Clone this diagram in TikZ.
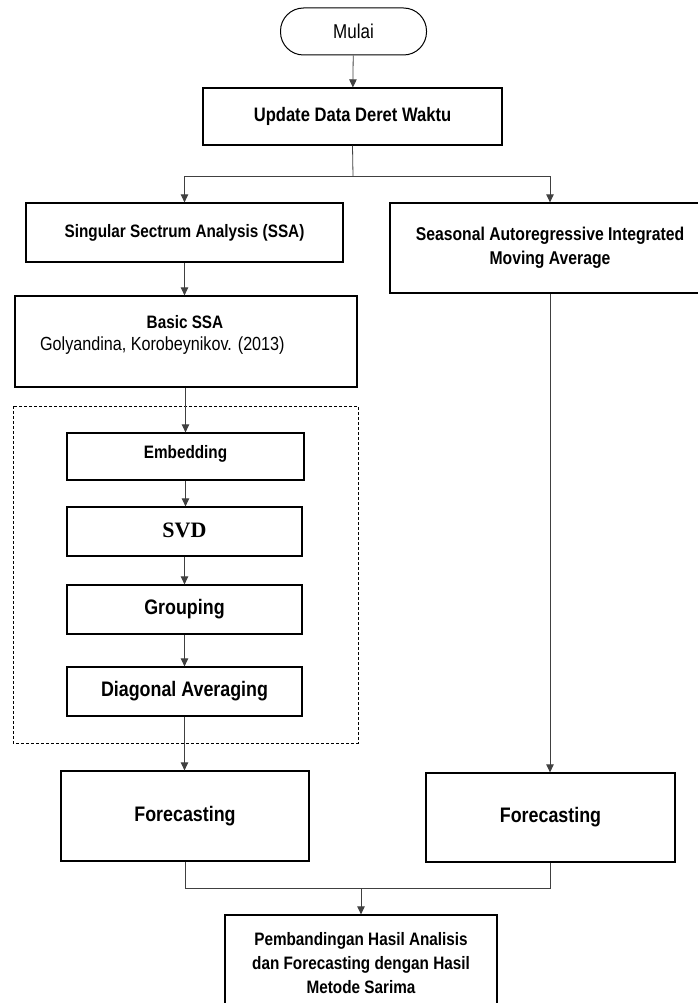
\documentclass[tikz,border=0pt]{standalone}
\usepackage{fontspec}
\setmainfont{Liberation Sans}
\newfontfamily\narrowfont{Liberation Sans}[FakeStretch=0.85]
\newfontfamily\svdfont{Liberation Serif}
\usetikzlibrary{arrows.meta}

\tikzset{every picture/.style={line width=0.75pt}}
\tikzset{
  box/.style={draw, line width=1.3pt, inner sep=0pt, align=center, font=\narrowfont\bfseries\fontsize{18}{24}\selectfont},
  flowline/.style={draw=black!75, line width=0.8pt},
  flowarrow/.style={flowline, -{Triangle[length=8pt,width=7.5pt]}},
  txt/.style={inner sep=0.75pt}
}

\begin{document}
\begin{tikzpicture}[x=1pt,y=1pt,yscale=-1,xscale=1]
\useasboundingbox (0,0) rectangle (697,1003);

%Terminal [id:mulai]
\node [draw, line width=1pt, rounded corners=23pt, minimum width=146pt, minimum height=47pt, inner sep=0pt, font=\narrowfont\fontsize{20}{24}\selectfont] (mulai) at (353.5,31.5) {Mulai};
%Process [id:update]
\node [box, minimum width=299pt, minimum height=57pt, font=\narrowfont\bfseries\fontsize{19.5}{24}\selectfont] (update) at (352.5,116.5) {Update Data Deret Waktu};
%Process [id:ssa]
\node [box, minimum width=317pt, minimum height=59pt] (ssa) at (184.5,232.5) {Singular Sectrum Analysis (SSA)};
%Process [id:sarima]
\node [box, minimum width=320pt, minimum height=90pt, font=\narrowfont\bfseries\fontsize{18.5}{24}\selectfont] (sarima) at (550,248) {Seasonal Autoregressive Integrated\\Moving Average};
%Process [id:basic]
\node [box, minimum width=342pt, minimum height=91pt] (basic) at (186,341.5) {};
% Text Node
\node [txt, font=\narrowfont\bfseries\fontsize{18}{24}\selectfont] (basictitle) at (185,322) {Basic SSA};
% Text Node
\node [txt, anchor=west, font=\narrowfont\fontsize{19}{24}\selectfont] (basicref) at (39,346) {Golyandina, Korobeynikov. (2013)};

%Dashed frame [id:ssasteps]
\draw [line width=0.8pt, dash pattern=on 3pt off 2pt] (13,406) rectangle (358,743);

%Process [id:embed]
\node [box, minimum width=237pt, minimum height=47pt] (embed) at (185.5,456.5) {\raisebox{10pt}{Embedding}};
%Process [id:svd]
\node [box, minimum width=235pt, minimum height=49pt, font=\svdfont\bfseries\fontsize{22}{24}\selectfont] (svd) at (184.5,531.5) {\raisebox{3pt}{SVD}};
%Process [id:group]
\node [box, minimum width=235pt, minimum height=49pt, font=\narrowfont\bfseries\fontsize{21}{24}\selectfont] (group) at (184.5,609.5) {\raisebox{3pt}{Grouping}};
%Process [id:diag]
\node [box, minimum width=235pt, minimum height=49pt, font=\narrowfont\bfseries\fontsize{21}{24}\selectfont] (diag) at (184.5,691.5) {\raisebox{3pt}{Diagonal Averaging}};

%Process [id:fcl]
\node [box, minimum width=248pt, minimum height=90pt, font=\narrowfont\bfseries\fontsize{21}{24}\selectfont] (fcl) at (185,816) {Forecasting};
%Process [id:fcr]
\node [box, minimum width=249pt, minimum height=89pt, font=\narrowfont\bfseries\fontsize{21}{24}\selectfont] (fcr) at (550.5,817.5) {Forecasting};
%Process [id:final]
\node [box, minimum width=272pt, minimum height=96pt] (final) at (361,963) {Pembandingan Hasil Analisis\\dan Forecasting dengan Hasil\\Metode Sarima};

%Junctions
\coordinate (split) at (353,176);
\coordinate (merge) at (361,888);

%Straight Lines
\draw [flowarrow] (mulai) -- (update);
\draw [flowline] (update.south) -- (split);
\draw [flowarrow] (split) -| (ssa.north);
\draw [flowarrow] (split) -| (sarima.north);
\draw [flowarrow] (ssa.south) -- (ssa.south |- basic.north);
\draw [flowarrow] (basic.south -| embed.north) -- (embed.north);
\draw [flowarrow] (embed.south) -- (embed.south |- svd.north);
\draw [flowarrow] (svd.south) -- (group.north);
\draw [flowarrow] (group.south) -- (diag.north);
\draw [flowarrow] (diag.south) -- (diag.south |- fcl.north);
\draw [flowarrow] (sarima.south) -- (sarima.south |- fcr.north);
\draw [flowline] (fcl.south) |- (merge);
\draw [flowline] (fcr.south) |- (merge);
\draw [flowarrow] (merge) -- (final);

\end{tikzpicture}
\end{document}
